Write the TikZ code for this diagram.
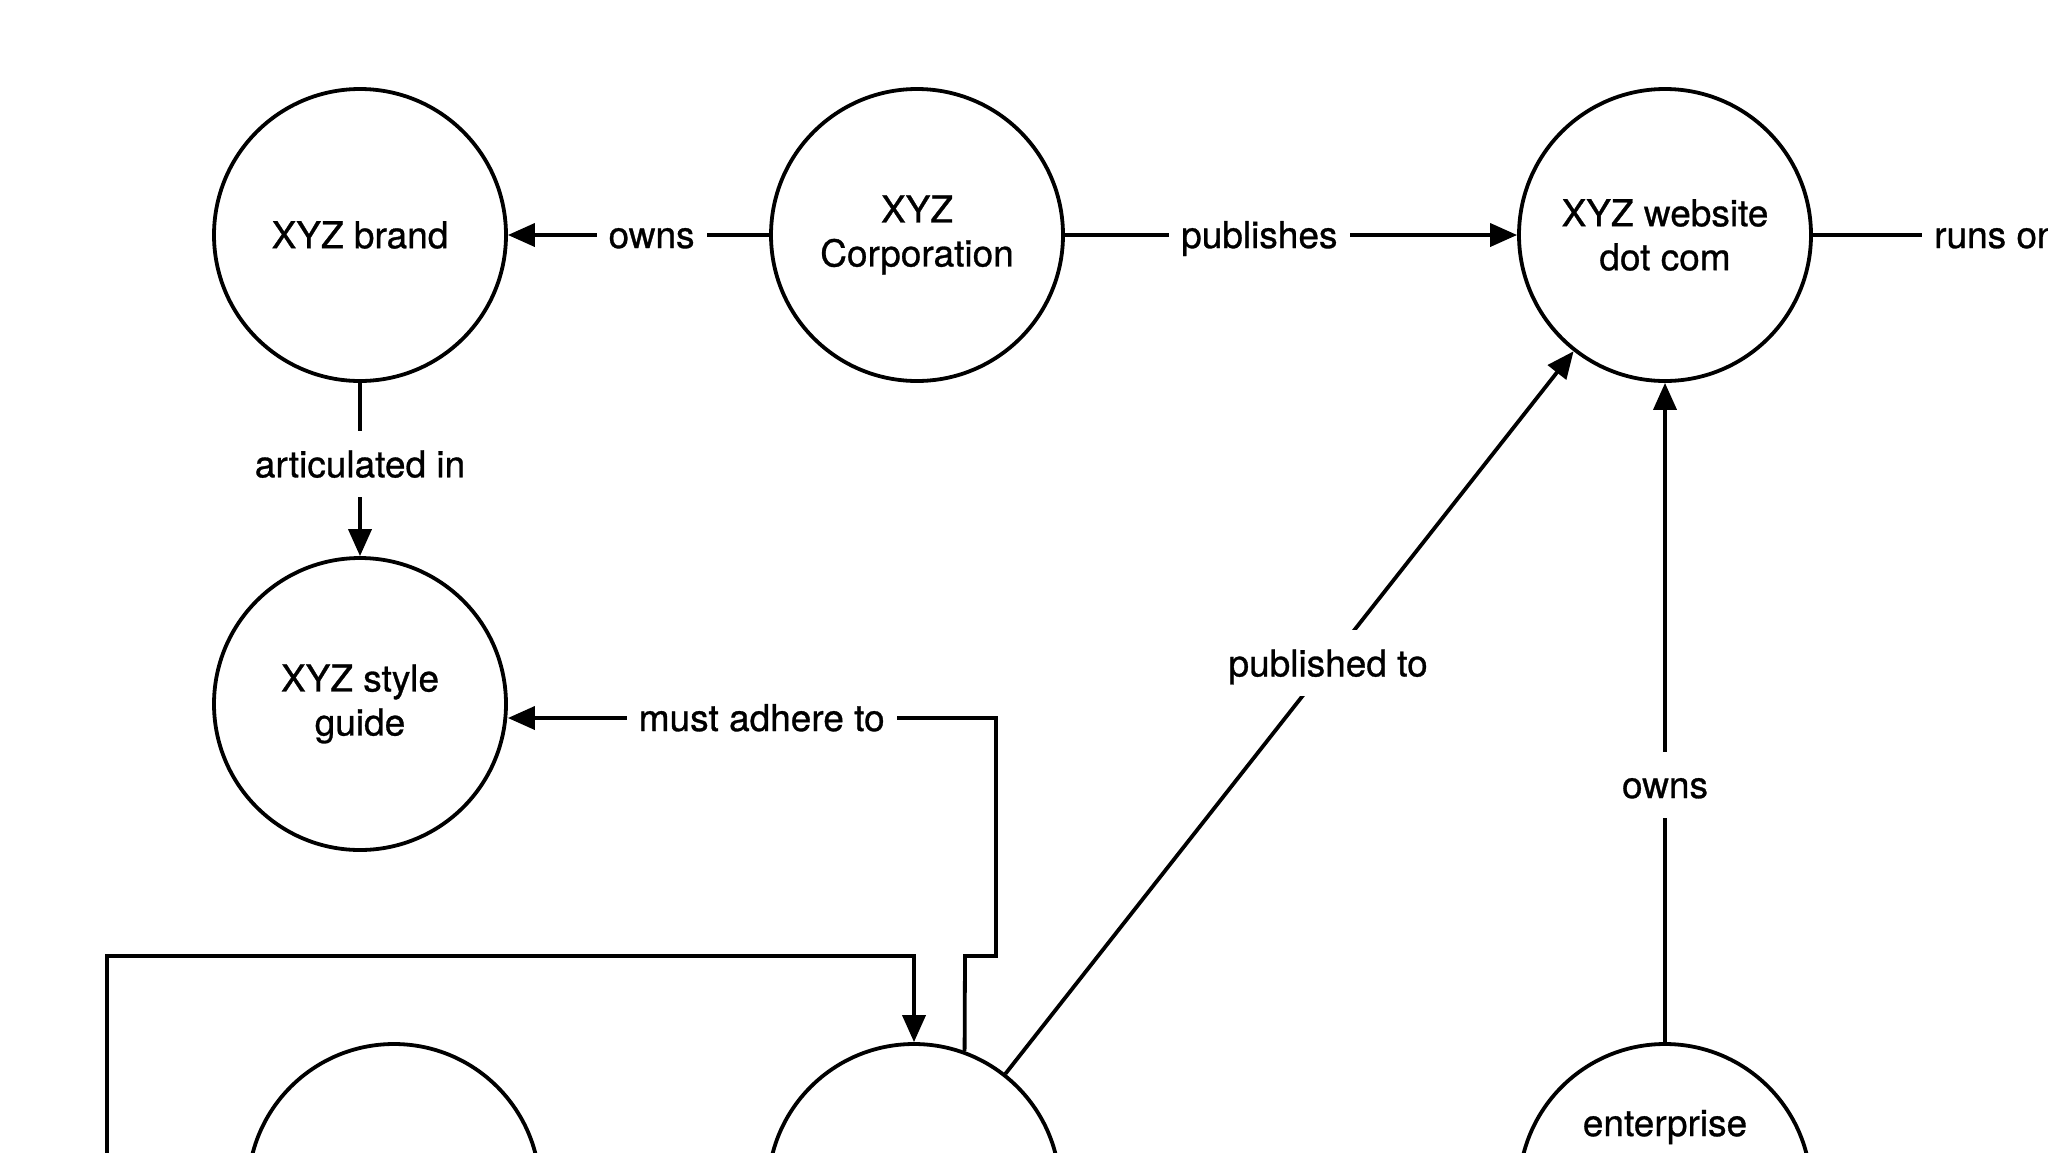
\documentclass[tikz,border=0pt]{standalone}
\usepackage{fontspec}
\setmainfont{TeX Gyre Heros}[FakeBold=0.8]
\usetikzlibrary{arrows.meta}
\begin{document}
\begin{tikzpicture}[x=1pt,y=-1pt,
  ent/.style={circle,draw,line width=3.8pt,minimum size=292pt,inner sep=0pt,align=center,font=\fontsize{37}{44}\selectfont},
  lbl/.style={fill=white,inner xsep=12pt,inner ysep=16pt,text height=30pt,text depth=4pt,font=\fontsize{37}{44}\selectfont},
  txt/.style={inner sep=0pt,font=\fontsize{37}{44}\selectfont},
  conn/.style={line width=3.8pt},
  arr/.style={conn,-{Triangle[length=27pt,width=23pt]}}]
\useasboundingbox (0,0) rectangle (2048,1152);
\clip (0,0) rectangle (2048,1152);
\fill[white] (0,0) rectangle (2048,1152);

\node[ent] (brand) at (360,235) {XYZ brand};
\node[ent] (corp)  at (917,235) {XYZ\\Corporation};
\node[ent] (web)   at (1665,235) {XYZ website\\dot com};
\node[ent] (style) at (360,704) {XYZ style\\guide};
\node[ent] (bl)    at (394,1190) {};
\node[ent] (mid)   at (914,1190) {};
\node[ent] (ent)   at (1665,1190) {};
\node[txt] (entlbl) at (1665,1127) {enterprise};

\coordinate (loopy) at (0,956);
\coordinate (lefte) at (107,1170);
\coordinate (stepa) at (965,956);
\coordinate (stepb) at (996,956);
\coordinate (stepc) at (996,718);

\draw[arr] (corp) -- node[lbl,pos=0.45] {owns} (brand);
\draw[arr] (corp) -- node[lbl,pos=0.43] {publishes} (web);
\draw[arr] (brand) -- node[lbl,pos=0.47] {articulated in} (style);
\draw[arr] (ent) -- node[lbl,pos=0.39] {owns} (web);
\draw[arr] (mid) -- node[lbl,pos=0.568] {published to} (web);

\node[lbl,anchor=west] (runs) at (1922,235) {runs on};
\draw[conn] (web.east) -- (runs.west);

\draw[arr] (mid.70) -- (stepa) -- (stepb) -- (stepc) -- node[lbl,pos=0.48] {must adhere to} (style.east |- stepc);
\draw[arr] (lefte) |- (mid.north |- loopy) -- (mid.north);
\end{tikzpicture}
\end{document}
